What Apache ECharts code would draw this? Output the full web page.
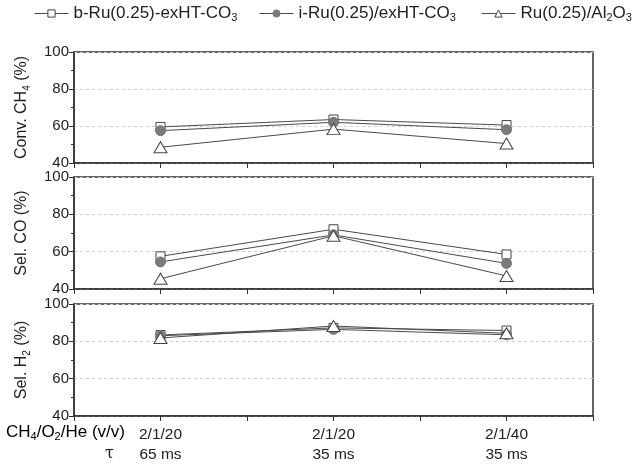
<!DOCTYPE html>
<html>
<head>
<meta charset="utf-8">
<script src="https://cdn.jsdelivr.net/npm/echarts@6/dist/echarts.min.js"></script>
<style>
html,body{margin:0;padding:0;background:#fff;}
#c{width:632px;height:464px;}
</style>
</head>
<body>
<div id="c"></div>
<script>
// ---- data ----
var xPositions = [1, 2, 3];
var feedLabels = ['2/1/20', '2/1/20', '2/1/40'];
var tauLabels = ['65 ms', '35 ms', '35 ms'];
var seriesNames = ['b-Ru(0.25)-exHT-CO3', 'i-Ru(0.25)/exHT-CO3', 'Ru(0.25)/Al2O3'];

var convB = [59.5, 63.5, 60.5];
var convI = [57.5, 62, 58];
var convA = [48.5, 58.3, 50.5];

var selCOB = [57.5, 72, 58.5];
var selCOI = [54.5, 69, 53.7];
var selCOA = [45.5, 68.5, 47];

var selH2B = [83.4, 87.2, 85.8];
var selH2I = [83, 86.4, 83.5];
var selH2A = [81.8, 88.2, 84.3];

var yTicks = [40, 60, 80, 100];

// ---- chart ----
var FONT = '"Liberation Sans", Arial, sans-serif';
var subRich = function (size) {
  return {
    a: { fontFamily: FONT, fontSize: size, color: '#222', lineHeight: 20 },
    s: { fontFamily: FONT, fontSize: Math.round(size * 0.62), color: '#222', verticalAlign: 'bottom', lineHeight: 13 }
  };
};
var legendFmt = {
  'b-Ru(0.25)-exHT-CO3': '{a|b-Ru(0.25)-exHT-CO}{s|3}',
  'i-Ru(0.25)/exHT-CO3': '{a|i-Ru(0.25)/exHT-CO}{s|3}',
  'Ru(0.25)/Al2O3': '{a|Ru(0.25)/Al}{s|2}{a|O}{s|3}'
};
var yNames = ['{a|Conv. CH}{s|4}{a| (%)}', '{a|Sel. CO (%)}', '{a|Sel. H}{s|2}{a| (%)}'];
var panels = [[convB, convI, convA], [selCOB, selCOI, selCOA], [selH2B, selH2I, selH2A]];
var grids = [
  { left: 74, right: 39, top: 52, bottom: 301 },
  { left: 74, right: 39, top: 177, bottom: 175 },
  { left: 74, right: 39, top: 304, bottom: 48 }
];

var lineColor = '#4a4a4a';
var styles = [
  { symbol: 'rect', symbolSize: 9, itemStyle: { color: '#fff', borderColor: '#444', borderWidth: 1 } },
  { symbol: 'circle', symbolSize: 10, itemStyle: { color: '#7a7a7a', borderColor: '#7a7a7a', borderWidth: 1 } },
  { symbol: 'triangle', symbolSize: [13, 11], itemStyle: { color: '#fff', borderColor: '#444', borderWidth: 1 } }
];

var xAxes = [], yAxes = [], series = [];
for (var p = 0; p < 3; p++) {
  xAxes.push({
    type: 'value', gridIndex: p, min: 0.5, max: 3.5, interval: 0.5,
    axisLine: { show: true, lineStyle: { color: '#333', width: 1.5 } },
    axisTick: { show: true, inside: false, length: 5, lineStyle: { color: '#333', width: 1 } },
    splitLine: { show: false },
    axisLabel: {
      show: p === 2, margin: 9,
      formatter: function (v) {
        var i = xPositions.indexOf(v);
        if (i < 0) return '';
        return '{l|' + feedLabels[i] + '}\n{l|' + tauLabels[i] + '}';
      },
      rich: { l: { fontFamily: FONT, fontSize: 15.5, color: '#222', lineHeight: 20, align: 'center' } }
    }
  });
  yAxes.push({
    type: 'value', gridIndex: p, min: yTicks[0], max: yTicks[yTicks.length - 1], interval: 20,
    name: yNames[p], nameLocation: 'middle', nameGap: 42, nameRotate: 90,
    nameTextStyle: { rich: subRich(16) },
    axisLine: { show: true, lineStyle: { color: '#333', width: 1.5 } },
    axisTick: { show: true, inside: false, length: 5, lineStyle: { color: '#333', width: 1 } },
    minorTick: { show: true, splitNumber: 2, length: 3, lineStyle: { color: '#333', width: 1 } },
    splitLine: { show: true, lineStyle: { color: '#cfcfcf', type: [3, 3], width: 1 } },
    axisLabel: { margin: 5, fontFamily: FONT, fontSize: 15, color: '#222' }
  });
  for (var s = 0; s < 3; s++) {
    series.push({
      name: seriesNames[s], type: 'line', xAxisIndex: p, yAxisIndex: p,
      data: xPositions.map(function (x, i) { return [x, panels[p][s][i]]; }),
      symbol: styles[s].symbol, symbolSize: styles[s].symbolSize,
      itemStyle: styles[s].itemStyle,
      lineStyle: { color: lineColor, width: 1 },
      showAllSymbol: true, animation: false, z: 2 + s
    });
  }
}

var legendLefts = [34, 259, 481];
var legends = seriesNames.map(function (n, i) {
  return {
    data: [n], left: legendLefts[i], top: 5, padding: 0, itemWidth: 34, itemHeight: 9,
    itemStyle: { borderWidth: 1 },
    lineStyle: { width: 1 },
    formatter: function (name) { return legendFmt[name]; },
    textStyle: { rich: subRich(17) }
  };
});

var chart = echarts.init(document.getElementById('c'), null, { renderer: 'canvas' });
chart.setOption({
  animation: false,
  backgroundColor: '#fff',
  grid: grids.map(function (g) { return Object.assign({ show: true, borderColor: '#333', borderWidth: 1.5, backgroundColor: 'transparent' }, g); }),
  legend: legends,
  xAxis: xAxes,
  yAxis: yAxes,
  series: series,
  graphic: [
    { type: 'text', left: 6, top: 424, style: { text: '{a|CH}{s|4}{a|/O}{s|2}{a|/He (v/v)}', rich: subRich(17) } },
    { type: 'text', left: 105, top: 446, style: { text: 'τ', fontFamily: '"DejaVu Serif", serif', fontSize: 16, fill: '#222' } }
  ]
});
</script>
</body>
</html>
